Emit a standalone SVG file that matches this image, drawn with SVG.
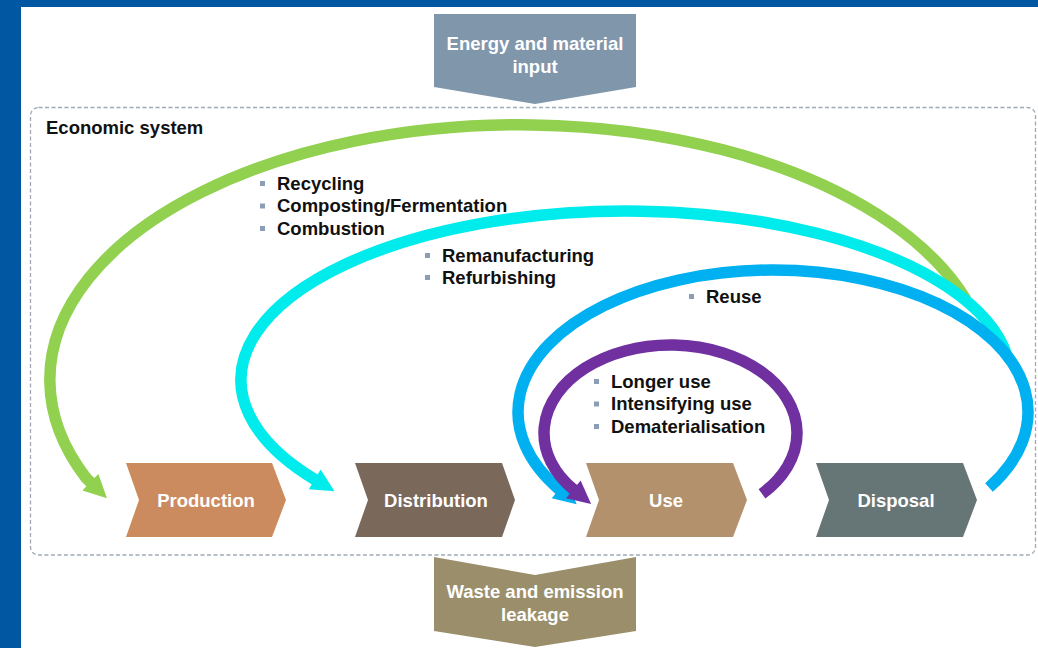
<svg xmlns="http://www.w3.org/2000/svg" width="1038" height="648" viewBox="0 0 1038 648">
<style>
.t{font-family:"Liberation Sans",Arial,sans-serif;font-weight:bold;font-size:18.5px;}
.w{fill:#ffffff;text-anchor:middle;}
.k{fill:#111111;}
.arc{fill:none;stroke-width:11.5;stroke-linecap:butt;}
.b{fill:#8B9EB6;}
</style>
<defs>
<marker id="mGreen" markerUnits="userSpaceOnUse" markerWidth="40" markerHeight="40" refX="0" refY="0" orient="44" overflow="visible"><path d="M-1,-5.75 L6,-5.75 L6,-11.5 L29,0 L6,11.5 L6,5.75 L-1,5.75 Z" fill="#92D050"/></marker>
<marker id="mCyan" markerUnits="userSpaceOnUse" markerWidth="30" markerHeight="30" refX="1" refY="11.5" orient="auto" overflow="visible"><path d="M0,0 L23,11.5 L0,23 Z" fill="#00EBEB"/></marker>
<marker id="mBlue" markerUnits="userSpaceOnUse" markerWidth="30" markerHeight="30" refX="1" refY="11.5" orient="auto" overflow="visible"><path d="M0,0 L23,11.5 L0,23 Z" fill="#00B0F0"/></marker>
<marker id="mPurple" markerUnits="userSpaceOnUse" markerWidth="30" markerHeight="30" refX="1" refY="11.5" orient="auto" overflow="visible"><path d="M0,0 L23,11.5 L0,23 Z" fill="#7030A0"/></marker>
</defs>
<rect x="0" y="0" width="1038" height="648" fill="#ffffff"/>
<rect x="0" y="0" width="1038" height="7" fill="#0157A2"/>
<rect x="0" y="0" width="21" height="648" fill="#0157A2"/>

<g id="economic-system">
<rect x="30.5" y="107.5" width="1005" height="447.5" rx="8" ry="8" fill="none" stroke="#9FA9B6" stroke-width="1.3" stroke-dasharray="4 2.5"/>
<text class="t k" x="46" y="134">Economic system</text>
</g>

<g id="energy-input">
<path d="M434,14 L636,14 L636,87 L535,104 L434,87 Z" fill="#7F96AB"/>
<text class="t w" x="535" y="50">Energy and material</text>
<text class="t w" x="535" y="72.5">input</text>
</g>

<g id="waste-output">
<path d="M434,557 L535,575 L636,557 L636,631 L535,647 L434,631 Z" fill="#9B8F6B"/>
<text class="t w" x="535" y="598">Waste and emission</text>
<text class="t w" x="535" y="620.5">leakage</text>
</g>

<g id="production">
<path d="M126,463 L272,463 L286,500 L272,537 L126,537 L139,500 Z" fill="#CC8B5E"/>
<text class="t w" x="206" y="506.5">Production</text>
</g>
<g id="distribution">
<path d="M355,463 L502,463 L515,500 L502,537 L355,537 L368,500 Z" fill="#7A685B"/>
<text class="t w" x="436" y="506.5">Distribution</text>
</g>
<g id="use">
<path d="M586,463 L733,463 L747,500 L733,537 L586,537 L599,500 Z" fill="#B3916C"/>
<text class="t w" x="666" y="506.5">Use</text>
</g>
<g id="disposal">
<path d="M816,463 L963,463 L977,500 L963,537 L816,537 L829,500 Z" fill="#667677"/>
<text class="t w" x="896" y="506.5">Disposal</text>
</g>

<g id="connectors">
<path id="loop-recycling" class="arc" stroke="#92D050" marker-end="url(#mGreen)" d="M966,299.6 A470,255 0 1 0 86.1,478"/>
<path id="loop-remanufacturing" class="arc" stroke="#00EBEB" marker-end="url(#mCyan)" d="M1007,355.7 A385,169 0 1 0 315.6,480"/>
<path id="loop-reuse" class="arc" stroke="#00B0F0" marker-end="url(#mBlue)" d="M989,487.5 A255,142 0 1 0 559.9,490"/>
<path id="loop-use" class="arc" stroke="#7030A0" marker-end="url(#mPurple)" d="M762,493.8 A126.5,88 0 1 0 574.1,490"/>
</g>

<g id="labels">
<g id="label-recycling">
<rect class="b" x="260" y="181" width="5" height="5"/>
<rect class="b" x="260" y="203.5" width="5" height="5"/>
<rect class="b" x="260" y="226" width="5" height="5"/>
<text class="t k" x="277" y="189.5">Recycling</text>
<text class="t k" x="277" y="212">Composting/Fermentation</text>
<text class="t k" x="277" y="234.5">Combustion</text>
</g>
<g id="label-remanufacturing">
<rect class="b" x="425" y="253" width="5" height="5"/>
<rect class="b" x="425" y="275" width="5" height="5"/>
<text class="t k" x="442" y="261.5">Remanufacturing</text>
<text class="t k" x="442" y="283.5">Refurbishing</text>
</g>
<g id="label-reuse">
<rect class="b" x="689" y="294" width="5" height="5"/>
<text class="t k" x="706" y="302.5">Reuse</text>
</g>
<g id="label-use">
<rect class="b" x="594" y="379" width="5" height="5"/>
<rect class="b" x="594" y="401.5" width="5" height="5"/>
<rect class="b" x="594" y="424" width="5" height="5"/>
<text class="t k" x="611" y="387.5">Longer use</text>
<text class="t k" x="611" y="410">Intensifying use</text>
<text class="t k" x="611" y="432.5">Dematerialisation</text>
</g>
</g>
</svg>
